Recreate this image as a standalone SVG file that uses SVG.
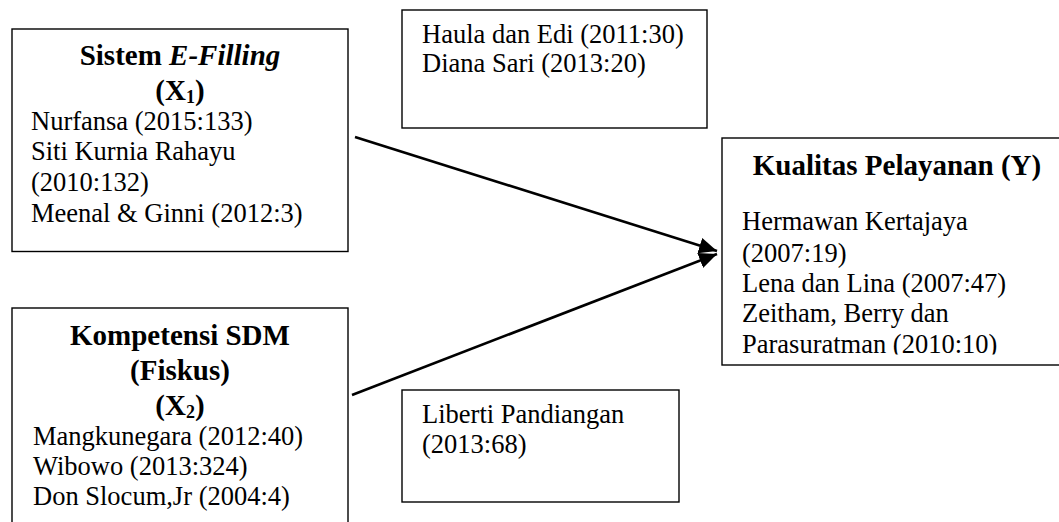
<svg xmlns="http://www.w3.org/2000/svg" width="1059" height="522" viewBox="0 0 1059 522">
<style>
.box{fill:#fff;stroke:#000;stroke-width:1.4}
.t{font-family:"Liberation Serif","Times New Roman",serif;font-size:26.5px;fill:#000}
.h{font-family:"Liberation Serif","Times New Roman",serif;font-size:29px;font-weight:bold;fill:#000}
.c{stroke:#000;stroke-width:2.6;fill:none}
</style>
<defs>
<marker id="ah" markerUnits="userSpaceOnUse" markerWidth="20" markerHeight="20" viewBox="0 0 20 20" refX="18" refY="10" orient="auto">
<path d="M0,2 L18,10 L0,18 Z" fill="#000"/>
</marker>
<clipPath id="clipY"><rect x="700" y="100" width="400" height="254.5"/></clipPath>
</defs>
<g id="connectors">
<line class="c" x1="355" y1="137" x2="717" y2="251" marker-end="url(#ah)"/>
<line class="c" x1="352" y1="395" x2="717" y2="254" marker-end="url(#ah)"/>
</g>
<g id="node-x1">
<rect class="box" x="12" y="29" width="336" height="222.5"/>
<text class="h" x="180" y="65" text-anchor="middle">Sistem <tspan font-style="italic">E-Filling</tspan></text>
<text class="h" x="180" y="100" text-anchor="middle">(X<tspan font-size="18" dy="3">1</tspan><tspan dy="-3">)</tspan></text>
<text class="t" x="31" y="130">Nurfansa (2015:133)</text>
<text class="t" x="31" y="160">Siti Kurnia Rahayu</text>
<text class="t" x="31" y="191">(2010:132)</text>
<text class="t" x="31" y="222">Meenal &amp; Ginni (2012:3)</text>
</g>
<g id="node-x2">
<rect class="box" x="12" y="308" width="336" height="230"/>
<text class="h" x="180" y="345" text-anchor="middle">Kompetensi SDM</text>
<text class="h" x="180" y="380" text-anchor="middle">(Fiskus)</text>
<text class="h" x="180" y="415" text-anchor="middle">(X<tspan font-size="18" dy="3">2</tspan><tspan dy="-3">)</tspan></text>
<text class="t" x="33" y="445">Mangkunegara (2012:40)</text>
<text class="t" x="33" y="475">Wibowo (2013:324)</text>
<text class="t" x="33" y="505">Don Slocum,Jr (2004:4)</text>
</g>
<g id="node-ref1">
<rect class="box" x="402" y="10" width="305" height="118"/>
<text class="t" x="422" y="43">Haula dan Edi (2011:30)</text>
<text class="t" x="422" y="72">Diana Sari (2013:20)</text>
</g>
<g id="node-ref2">
<rect class="box" x="402" y="390" width="277" height="112"/>
<text class="t" x="422" y="423">Liberti Pandiangan</text>
<text class="t" x="422" y="453">(2013:68)</text>
</g>
<g id="node-y">
<rect class="box" x="722" y="138" width="360" height="227"/>
<text class="h" x="897" y="175" text-anchor="middle">Kualitas Pelayanan (Y)</text>
<g clip-path="url(#clipY)">
<text class="t" x="742" y="230">Hermawan Kertajaya</text>
<text class="t" x="742" y="262">(2007:19)</text>
<text class="t" x="742" y="292">Lena dan Lina (2007:47)</text>
<text class="t" x="742" y="322">Zeitham, Berry dan</text>
<text class="t" x="742" y="353">Parasuratman (2010:10)</text>
</g>
</g>
</svg>
